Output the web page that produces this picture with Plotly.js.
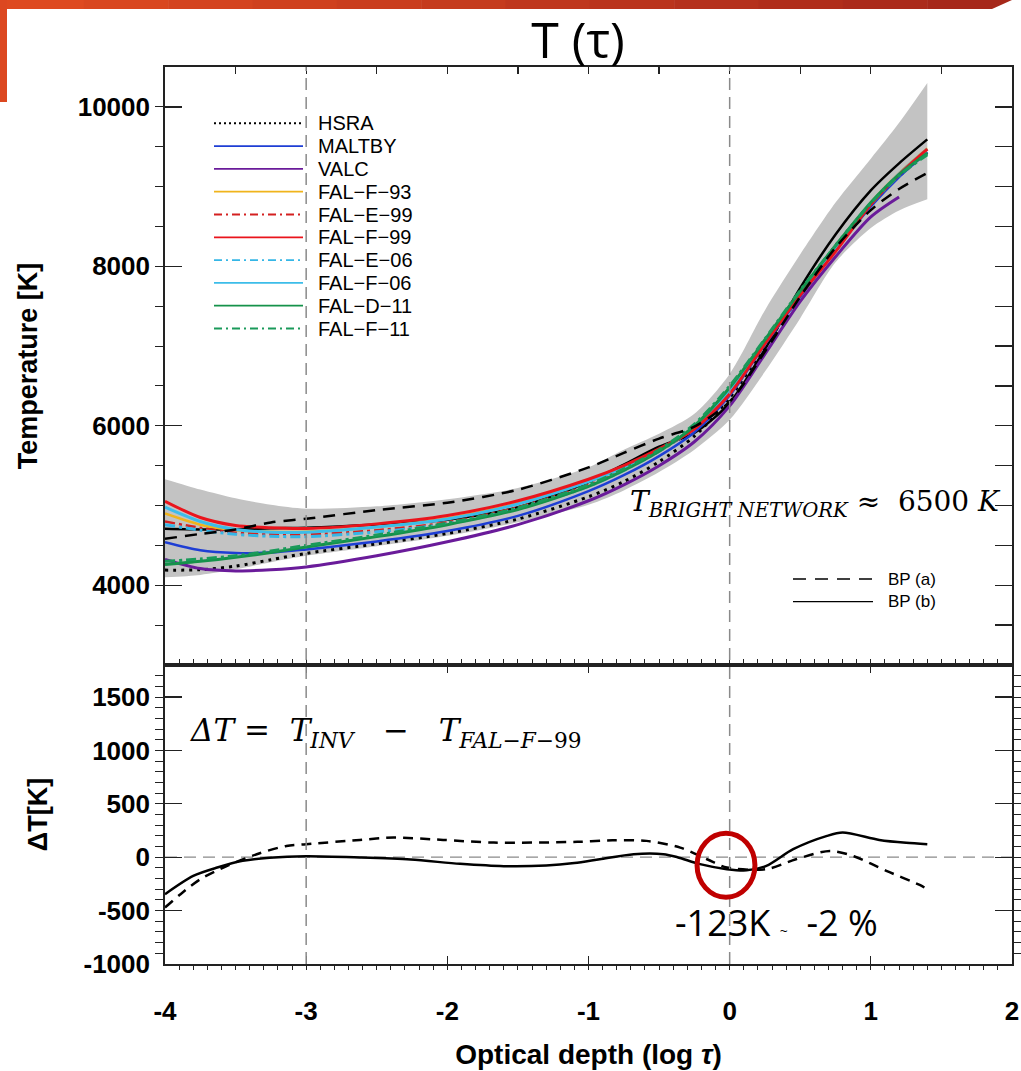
<!DOCTYPE html>
<html><head><meta charset="utf-8">
<script src="https://cdn.plot.ly/plotly-3.0.1.min.js"></script>
<style>html,body{margin:0;padding:0;background:#fff}#chart{width:1021px;height:1071px}</style>
</head><body><div id="chart"></div>
<script>
// ---------- DATA ----------
const logTau = [-4, -3.75, -3.5, -3.25, -3, -2.5, -2, -1.5, -1, -0.75, -0.5, -0.25, 0, 0.25, 0.5, 0.75, 1.0, 1.2, 1.4];
const bandUpper = [5330, 5200, 5090, 5010, 4960, 4990, 5080, 5220, 5480, 5700, 5900, 6150, 6650, 7450, 8150, 8800, 9350, 9800, 10300];
const bandLower = [4100, 4130, 4200, 4290, 4370, 4490, 4620, 4790, 5010, 5190, 5420, 5700, 6075, 6680, 7350, 8050, 8480, 8700, 8840];
const hsra   = [4190, 4195, 4240, 4320, 4400, 4520, 4650, 4830, 5110, 5300, 5550, 5870, 6350, 7000, 7640, 8260, 8780, 9130, 9430];
const maltby = [4540, 4440, 4405, 4410, 4450, 4550, 4680, 4870, 5180, 5380, 5620, 5920, 6380, 7020, 7620, 8200, 8750, 9120, 9430];
const valc   = [4325, 4210, 4180, 4195, 4230, 4370, 4545, 4760, 5060, 5260, 5500, 5800, 6250, 6900, 7560, 8120, 8620, 8870, null];
const falF93 = [4900, 4760, 4690, 4670, 4670, 4730, 4840, 5030, 5310, 5490, 5700, 5970, 6420, 7050, 7660, 8230, 8800, 9170, 9480];
const falE99 = [4800, 4720, 4660, 4640, 4637, 4690, 4790, 4980, 5260, 5450, 5680, 5970, 6430, 7050, 7660, 8230, 8780, 9150, 9460];
const falF99 = [5054, 4850, 4750, 4720, 4712, 4770, 4875, 5060, 5330, 5500, 5710, 5960, 6400, 7030, 7640, 8185, 8775, 9150, 9470];
const falE06 = [4760, 4690, 4640, 4615, 4610, 4670, 4770, 4960, 5240, 5440, 5680, 5980, 6450, 7060, 7670, 8230, 8780, 9140, 9440];
const falF06 = [4980, 4800, 4700, 4665, 4665, 4730, 4830, 5020, 5300, 5480, 5700, 5980, 6440, 7050, 7660, 8240, 8790, 9160, 9470];
const falD11 = [4260, 4300, 4350, 4410, 4480, 4610, 4760, 4950, 5240, 5440, 5680, 6000, 6480, 7080, 7690, 8260, 8800, 9150, 9420];
const falF11 = [4300, 4330, 4370, 4430, 4500, 4630, 4780, 4970, 5260, 5460, 5700, 6020, 6500, 7090, 7700, 8260, 8790, 9140, 9400];
const bpA    = [4583, 4644, 4700, 4788, 4834, 4943, 5035, 5198, 5478, 5660, 5840, 5990, 6303, 6930, 7620, 8235, 8705, 8970, 9170];
const bpB    = [4708, 4700, 4700, 4715, 4721, 4762, 4823, 4978, 5295, 5514, 5738, 5910, 6288, 6960, 7730, 8400, 8953, 9292, 9592];

// Delta T panel
const dTauB = [-4.0, -3.8, -3.63, -3.45, -3.26, -3.0, -2.62, -2.26, -1.91, -1.6, -1.3, -1.1, -0.92, -0.68, -0.47, -0.37, -0.21, -0.02, 0.12, 0.26, 0.45, 0.69, 0.80, 1.06, 1.25, 1.40];
const deltaB = [-346, -175, -97, -34, -5, 9, -3, -22, -62, -84, -78, -55, -19, 28, 28, 0, -65, -112, -123, -81, 75, 200, 231, 162, 135, 122];
const dTauA = [-4.0, -3.89, -3.75, -3.56, -3.35, -3.14, -3.0, -2.62, -2.38, -2.03, -1.67, -1.08, -0.83, -0.59, -0.35, -0.16, -0.02, 0.26, 0.47, 0.71, 0.88, 1.11, 1.35, 1.40];
const deltaA = [-471, -346, -206, -81, 28, 106, 122, 162, 184, 162, 137, 144, 159, 153, 90, -19, -97, -112, -19, 59, 9, -128, -262, -300];

const modelNames = ['HSRA', 'MALTBY', 'VALC', 'FAL−F−93', 'FAL−E−99', 'FAL−F−99', 'FAL−E−06', 'FAL−F−06', 'FAL−D−11', 'FAL−F−11'];
const modelSeries = [hsra, maltby, valc, falF93, falE99, falF99, falE06, falF06, falD11, falF11];
const bpNames = ['BP (a)', 'BP (b)'];
const xTickVals = [-4, -3, -2, -1, 0, 1, 2];
const xTickText = ['-4', '-3', '-2', '-1', '0', '1', '2'];
const tTickVals = [4000, 6000, 8000, 10000];
const tTickText = ['4000', '6000', '8000', '10000'];
const dTickVals = [-1000, -500, 0, 500, 1000, 1500];
const dTickText = ['-1000', '-500', '0', '500', '1000', '1500'];

// ---------- STYLES ----------
const DASHDOT = '10px,4px,3px,4px';
const modelStyle = [
  {color: '#000000', dash: '3px,5px', width: 3},
  {color: '#1e3ed4', dash: 'solid', width: 2.5},
  {color: '#6a1b9a', dash: 'solid', width: 3},
  {color: '#f0b41c', dash: 'solid', width: 2.5},
  {color: '#d42020', dash: DASHDOT, width: 2.5},
  {color: '#ea141c', dash: 'solid', width: 3},
  {color: '#35b6e6', dash: DASHDOT, width: 3},
  {color: '#3cbde9', dash: 'solid', width: 3},
  {color: '#15924a', dash: 'solid', width: 3},
  {color: '#1a9a5a', dash: DASHDOT, width: 3}
];
const bpStyle = [{color: '#000', dash: '12px,8px', width: 2.5}, {color: '#000', dash: 'solid', width: 2.5}];
const drawOrder = [0, 'B', 1, 2, 3, 4, 6, 7, 5, 8, 9, 'A'];

// ---------- GEOMETRY ----------
const W = 1021, H = 1071, ML = 165, MR = 9, MT = 67, MB = 107;
const PW = W - ML - MR, PH = H - MT - MB;
const px = v => (v - ML) / PW;
const py = v => 1 - (v - MT) / PH;

const traces = [];
traces.push({x: logTau, y: bandLower, xaxis: 'x2', yaxis: 'y2', mode: 'lines', line: {width: 0, shape: 'spline', smoothing: 0.8}, showlegend: false, hoverinfo: 'skip', name: 'range low'});
traces.push({x: logTau, y: bandUpper, xaxis: 'x2', yaxis: 'y2', mode: 'lines', fill: 'tonexty', fillcolor: '#c3c3c3', line: {width: 0, shape: 'spline', smoothing: 0.8}, showlegend: false, hoverinfo: 'skip', name: 'range high'});

drawOrder.forEach(k => {
  if (k === 'A' || k === 'B') {
    const i = k === 'A' ? 0 : 1;
    traces.push({x: logTau, y: i === 0 ? bpA : bpB, xaxis: 'x2', yaxis: 'y2', mode: 'lines', name: bpNames[i],
      line: {color: bpStyle[i].color, dash: bpStyle[i].dash, width: bpStyle[i].width, shape: 'spline', smoothing: 0.8}, showlegend: false});
  } else {
    const s = modelStyle[k];
    traces.push({x: logTau, y: modelSeries[k], xaxis: 'x2', yaxis: 'y2', mode: 'lines', name: modelNames[k],
      line: {color: s.color, dash: s.dash, width: s.width, shape: 'spline', smoothing: 0.8}, showlegend: false, connectgaps: false});
  }
});
traces.push({x: dTauA, y: deltaA, xaxis: 'x', yaxis: 'y', mode: 'lines', name: 'ΔT ' + bpNames[0],
  line: {color: '#000', dash: '10px,7px', width: 2.5, shape: 'spline', smoothing: 0.8}, showlegend: false});
traces.push({x: dTauB, y: deltaB, xaxis: 'x', yaxis: 'y', mode: 'lines', name: 'ΔT ' + bpNames[1],
  line: {color: '#000', width: 2.5, shape: 'spline', smoothing: 0.8}, showlegend: false});

const FAM = 'Liberation Sans, Arial, sans-serif';
const axFont = {family: FAM, size: 26, color: '#000', weight: 'bold'};
const titFont = {family: FAM, size: 27, color: '#000', weight: 'bold'};
const AX = '#222';

const shapes = [];
// decorative frame: gradient bar on top, bar on left
const barStops = 12, c0 = [222, 74, 32], c1 = [166, 40, 26];
for (let i = 0; i < barStops; i++) {
  const a = i * 1012 / barStops, b = (i + 1) * 1012 / barStops;
  const t = i / (barStops - 1);
  const col = `rgb(${c0.map((c, j) => Math.round(c + (c1[j] - c) * t)).join(',')})`;
  const last = i === barStops - 1;
  shapes.push({type: 'path', xref: 'paper', yref: 'paper', layer: 'above', line: {width: 0}, fillcolor: col,
    path: `M ${px(a - 0.5)},${py(0)} L ${px(b)},${py(0)} L ${px(last ? b - 20 : b)},${py(9)} L ${px(a - 0.5)},${py(9)} Z`});
}
shapes.push({type: 'rect', xref: 'paper', yref: 'paper', layer: 'above', line: {width: 0}, fillcolor: '#dc4820',
  x0: px(0), x1: px(7), y0: py(0), y1: py(102)});
shapes.push(
  {type: 'line', xref: 'x', yref: 'paper', x0: -3, x1: -3, y0: 0, y1: 1, line: {color: '#8a8a8a', width: 1.5, dash: '12px,7px'}, layer: 'above'},
  {type: 'line', xref: 'x', yref: 'paper', x0: 0, x1: 0, y0: 0, y1: 1, line: {color: '#8a8a8a', width: 1.5, dash: '12px,7px'}, layer: 'above'},
  {type: 'line', xref: 'paper', yref: 'y', x0: 0, x1: 1, y0: 0, y1: 0, line: {color: '#8a8a8a', width: 1.3, dash: '12px,7px'}, layer: 'below'},
  {type: 'circle', xref: 'x', yref: 'y', x0: -0.231, x1: 0.179, y0: -375, y1: 225, line: {color: '#c00000', width: 5}}
);

const annotations = [];
modelNames.forEach((n, i) => {
  const yy = py(123.3 + i * 22.8);
  const s = modelStyle[i];
  shapes.push({type: 'line', xref: 'paper', yref: 'paper', x0: px(214), x1: px(303), y0: yy, y1: yy,
    line: {color: s.color, width: i === 0 ? 2 : 1.8, dash: i === 0 ? '2px,3px' : (s.dash === DASHDOT ? '8px,4px,2px,4px' : 'solid')}});
  annotations.push({xref: 'paper', yref: 'paper', x: px(316), y: yy, xanchor: 'left', yanchor: 'middle', showarrow: false,
    text: n, font: {family: FAM, size: 20, color: '#000'}});
});
bpNames.forEach((n, i) => {
  const yy = py(579 + i * 22.7);
  shapes.push({type: 'line', xref: 'paper', yref: 'paper', x0: px(793), x1: px(873), y0: yy, y1: yy,
    line: {color: '#000', width: 1.3, dash: i === 0 ? '13px,9px' : 'solid'}});
  annotations.push({xref: 'paper', yref: 'paper', x: px(886), y: yy, xanchor: 'left', yanchor: 'middle', showarrow: false,
    text: n, font: {family: FAM, size: 17, color: '#000'}});
});
annotations.push({xref: 'x2', yref: 'y2', x: -0.72, y: 5030, xanchor: 'left', yanchor: 'middle', showarrow: false,
  text: '<i>T</i><sub><i>BRIGHT NETWORK</i></sub> ≈  6500 <i>K</i>', font: {family: 'DejaVu Serif, serif', size: 28, color: '#000'}});
annotations.push({xref: 'x', yref: 'y', x: -3.84, y: 1170, xanchor: 'left', yanchor: 'middle', showarrow: false,
  text: '<i>ΔT</i> =  <i>T</i><sub><i>INV</i></sub>   −   <i>T</i><sub><i>FAL−F</i>−99</sub>', font: {family: 'DejaVu Serif, serif', size: 31, color: '#000'}});
annotations.push({xref: 'x', yref: 'y', x: 0.335, y: -609, xanchor: 'center', yanchor: 'middle', showarrow: false,
  text: '-123K <span style="font-size:14px">~</span>  -2 %', font: {family: 'Open Sans, sans-serif', size: 36, color: '#000'}});

const layout = {
  width: W, height: H, margin: {l: ML, r: MR, t: MT, b: MB}, paper_bgcolor: '#fff', plot_bgcolor: '#fff', showlegend: false,
  title: {text: 'T (τ)', font: {family: 'Open Sans, sans-serif', size: 50, color: '#000'}, x: 578 / W, xanchor: 'center', xref: 'container', y: 1 - 40 / H, yanchor: 'middle', yref: 'container'},
  xaxis: {domain: [0, 1], anchor: 'y', range: [-4, 2], tickmode: 'array', tickvals: xTickVals, ticktext: xTickText, ticks: 'inside', ticklen: 8, tickwidth: 1.3, tickcolor: AX,
    minor: {dtick: 0.1, ticklen: 4, tickcolor: AX, tickwidth: 1}, mirror: 'ticks', showline: true, linecolor: AX, linewidth: 1.8,
    showgrid: false, zeroline: false, tickfont: axFont, ticklabelstandoff: 23,
    title: {text: 'Optical depth (log <i>τ</i>)', font: {family: FAM, size: 28, color: '#000', weight: 'bold'}, standoff: 19}},
  yaxis: {domain: [0, 1 / 3], anchor: 'x', range: [-1000, 1800], tickmode: 'array', tickvals: dTickVals, ticktext: dTickText, ticks: 'inside', ticklen: 17, tickwidth: 1.3, tickcolor: AX,
    minor: {tick0: 0, dtick: 100, ticklen: 8, tickcolor: AX, tickwidth: 1}, mirror: 'ticks', showline: true, linecolor: AX, linewidth: 1.8,
    showgrid: false, zeroline: false, tickfont: axFont, ticklabelstandoff: 8,
    title: {text: 'ΔT[K]', font: titFont, standoff: 28}},
  xaxis2: {domain: [0, 1], anchor: 'y2', side: 'top', range: [-4, 2], dtick: 0.5, tick0: 0, ticks: 'inside', ticklen: 7, tickwidth: 1.3, tickcolor: AX,
    showticklabels: false, showline: true, mirror: true, linecolor: AX, linewidth: 1.8, showgrid: false, zeroline: false},
  yaxis2: {domain: [1 / 3, 1], anchor: 'x2', range: [3000, 10500], tickmode: 'array', tickvals: tTickVals, ticktext: tTickText, ticks: 'inside', ticklen: 17, tickwidth: 1.3, tickcolor: AX,
    minor: {tick0: 0, dtick: 500, ticklen: 8, tickcolor: AX, tickwidth: 1}, showline: true, mirror: true, linecolor: AX, linewidth: 1.8,
    showgrid: false, zeroline: false, tickfont: axFont, ticklabelstandoff: 8,
    title: {text: 'Temperature [K]', font: titFont, standoff: 32}},
  yaxis3: {overlaying: 'y2', side: 'right', anchor: 'x2', range: [3000, 10500], tick0: 0, dtick: 500, ticks: 'inside', ticklen: 17, tickwidth: 1.3, tickcolor: AX,
    showticklabels: false, showline: false, showgrid: false, zeroline: false},
  shapes: shapes, annotations: annotations
};
traces.push({x: [logTau[0]], y: [bandLower[0]], xaxis: 'x2', yaxis: 'y3', mode: 'markers', marker: {opacity: 0}, showlegend: false, hoverinfo: 'skip', name: 'axis'});

Plotly.newPlot('chart', traces, layout, {displayModeBar: false, staticPlot: true});
</script></body></html>
